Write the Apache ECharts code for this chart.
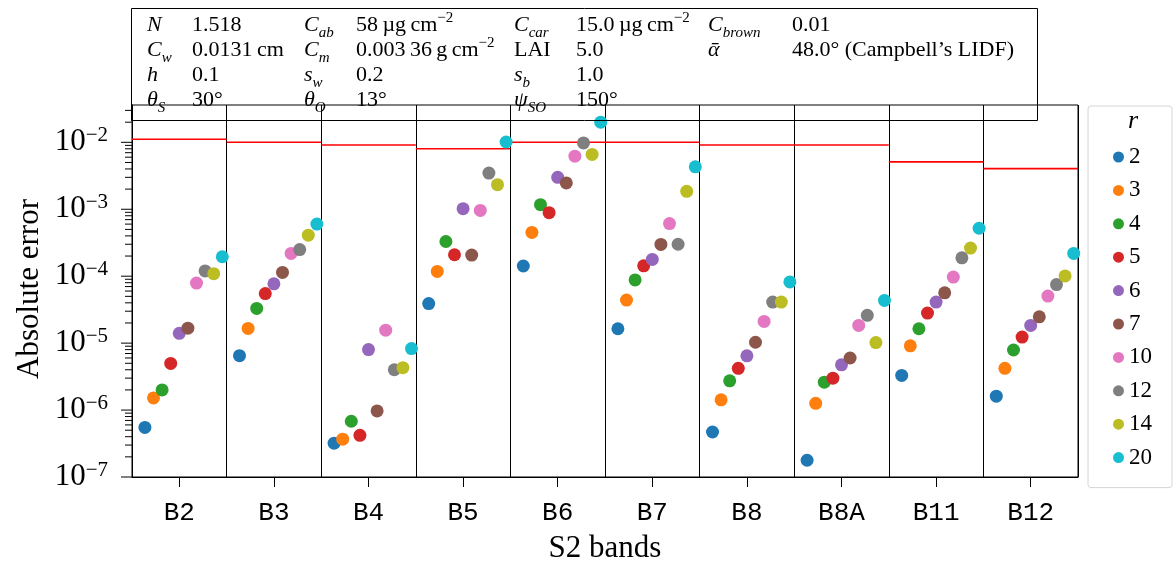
<!DOCTYPE html>
<html>
<head>
<meta charset="utf-8">
<script src="https://cdn.jsdelivr.net/npm/echarts@6/dist/echarts.min.js"></script>
<style>
  html, body { margin: 0; padding: 0; background: #fff; }
  #chart { width: 1176px; height: 561px; }
</style>
</head>
<body>
<div id="chart"></div>
<script>
// Sentinel-2 bands and the r values compared in each band
const bands = ['B2', 'B3', 'B4', 'B5', 'B6', 'B7', 'B8', 'B8A', 'B11', 'B12'];
const rValues = ['2', '3', '4', '5', '6', '7', '10', '12', '14', '20'];

// tolerance per band (red bars)
const thresholds = [1.11e-2, 1.0e-2, 9.1e-3, 8.0e-3, 1.0e-2, 1.0e-2, 9.1e-3, 9.1e-3, 5.1e-3, 4.04e-3];

// absolute error per band, one array per r
const errR2  = [5.5e-7, 6.5e-6, 3.2e-7, 3.9e-5, 1.42e-4, 1.64e-5, 4.7e-7, 1.78e-7, 3.29e-6, 1.61e-6];
const errR3  = [1.52e-6, 1.66e-5, 3.67e-7, 1.18e-4, 4.5e-4, 4.4e-5, 1.42e-6, 1.26e-6, 9.1e-6, 4.2e-6];
const errR4  = [2.0e-6, 3.3e-5, 6.8e-7, 3.3e-4, 1.17e-3, 8.8e-5, 2.73e-6, 2.61e-6, 1.64e-5, 7.9e-6];
const errR5  = [4.97e-6, 5.5e-5, 4.2e-7, 2.09e-4, 8.9e-4, 1.43e-4, 4.2e-6, 3.0e-6, 2.81e-5, 1.23e-5];
const errR6  = [1.40e-5, 7.7e-5, 8.0e-6, 1.02e-3, 3.0e-3, 1.78e-4, 6.46e-6, 4.74e-6, 4.1e-5, 1.84e-5];
const errR7  = [1.67e-5, 1.14e-4, 9.7e-7, 2.07e-4, 2.47e-3, 2.98e-4, 1.03e-5, 6.0e-6, 5.65e-5, 2.47e-5];
const errR10 = [7.9e-5, 2.19e-4, 1.56e-5, 9.6e-4, 6.2e-3, 6.1e-4, 2.11e-5, 1.84e-5, 9.7e-5, 5.05e-5];
const errR12 = [1.2e-4, 2.5e-4, 4.0e-6, 3.47e-3, 9.8e-3, 3.0e-4, 4.1e-5, 2.6e-5, 1.88e-4, 7.5e-5];
const errR14 = [1.09e-4, 4.1e-4, 4.3e-6, 2.33e-3, 6.6e-3, 1.85e-3, 4.1e-5, 1.02e-5, 2.63e-4, 1.01e-4];
const errR20 = [1.95e-4, 6.0e-4, 8.3e-6, 1.01e-2, 2.0e-2, 4.3e-3, 8.2e-5, 4.35e-5, 5.2e-4, 2.19e-4];

// decade exponents labelled on the y axis
const yTickExponents = [-7, -6, -5, -4, -3, -2];

// simulation parameters listed above the plot (label, value) per row
const paramRows = [
  [['{m|N}', '{t|1.518}'],
   ['{m|C}{sub|ab}', '{t|58\u2009\u00b5g\u2009cm}{sup|\u22122}'],
   ['{m|C}{sub|car}', '{t|15.0\u2009\u00b5g\u2009cm}{sup|\u22122}'],
   ['{m|C}{sub|brown}', '{t|0.01}']],
  [['{m|C}{sub|w}', '{t|0.0131\u2009cm}'],
   ['{m|C}{sub|m}', '{t|0.003\u200936\u2009g\u2009cm}{sup|\u22122}'],
   ['{t|LAI}', '{t|5.0}'],
   ['{m|\u1fb1}', '{t|48.0\u00b0 (Campbell\u2019s LIDF)}']],
  [['{m|h}', '{t|0.1}'],
   ['{m|s}{sub|w}', '{t|0.2}'],
   ['{m|s}{sub|b}', '{t|1.0}'],
   null],
  [['{m|\u03b8}{sub|S}', '{t|30\u00b0}'],
   ['{m|\u03b8}{sub|O}', '{t|13\u00b0}'],
   ['{m|\u03c8}{sub|SO}', '{t|150\u00b0}'],
   null]
];

const errSeries = [errR2, errR3, errR4, errR5, errR6, errR7, errR10, errR12, errR14, errR20];
const palette = ['#1f77b4', '#ff7f0e', '#2ca02c', '#d62728', '#9467bd',
                 '#8c564b', '#e377c2', '#7f7f7f', '#bcbd22', '#17becf'];

const SERIF = "'Liberation Serif', 'DejaVu Serif', serif";
const MONO = "'Liberation Mono', 'DejaVu Sans Mono', monospace";
const Y_MIN = 1e-7, Y_MAX = 0.0361;
const X_MIN = -0.5, X_MAX = bands.length - 0.5;
const DODGE = 1 / 11;

// decade and sub-decade tick values of the log axis
const majorTicks = yTickExponents.map(e => Math.pow(10, e));
const minorTicks = [];
yTickExponents.forEach(e => {
  for (let k = 2; k <= 9; k++) {
    const v = k * Math.pow(10, e);
    if (v <= Y_MAX) minorTicks.push(v);
  }
});

const series = [];

// tolerance bars spanning each band
series.push({
  type: 'custom', name: 'tolerance', xAxisIndex: 1, yAxisIndex: 0,
  silent: true, z: 2,
  data: thresholds.map((v, i) => [i, v]),
  renderItem: (params, api) => {
    const i = api.value(0), v = api.value(1);
    const a = api.coord([i - 0.5, v]);
    const b = api.coord([i + 0.5, v]);
    return {
      type: 'line',
      shape: { x1: a[0], y1: a[1], x2: b[0], y2: b[1] },
      style: { stroke: '#ff0000', lineWidth: 1.6 }
    };
  }
});

rValues.forEach((r, k) => {
  series.push({
    type: 'scatter', name: r, xAxisIndex: 1, yAxisIndex: 0,
    symbol: 'circle', symbolSize: 13, z: 4,
    itemStyle: { color: palette[k], opacity: 1 },
    data: errSeries[k].map((v, i) => [i + (k - 4) * DODGE, v])
  });
});

// y-axis tick marks: thin bars anchored on the left edge of the plot, pointing outwards
function tickMarks(values, len) {
  return {
    type: 'scatter', name: 'axis ticks', xAxisIndex: 1, yAxisIndex: 0,
    silent: true, clip: false, z: 6,
    symbol: 'rect', symbolSize: [len, 1], symbolOffset: [-len / 2, 0],
    itemStyle: { color: '#000', opacity: 1 },
    emphasis: { disabled: true },
    data: values.map(v => [X_MIN, v])
  };
}
series.push(tickMarks(majorTicks, 11));
series.push(tickMarks(minorTicks, 7));

const chart = echarts.init(document.getElementById('chart'), null, { renderer: 'canvas' });
chart.setOption({
  animation: false,
  backgroundColor: '#fff',
  grid: {
    left: 132, top: 105, right: 98, bottom: 84,
    show: true, borderColor: '#000', borderWidth: 1, backgroundColor: 'transparent'
  },
  legend: {
    data: rValues, orient: 'vertical', left: 1088, top: 106,
    padding: [39, 20, 18, 25], itemGap: 9.4,
    itemWidth: 11, itemHeight: 11, icon: 'circle',
    borderColor: '#d6d6d6', borderWidth: 1, borderRadius: 3,
    selectedMode: false,
    textStyle: { fontFamily: SERIF, fontSize: 23, lineHeight: 24, color: '#000' }
  },
  xAxis: [
    {
      type: 'category', data: bands, boundaryGap: true, position: 'bottom',
      axisLine: { show: true, onZero: false, lineStyle: { color: '#000', width: 1 } },
      axisTick: { show: true, alignWithLabel: true, length: 10, lineStyle: { color: '#000' } },
      axisLabel: { fontFamily: MONO, fontSize: 26, color: '#000', margin: 23 },
      splitLine: { show: true, lineStyle: { color: '#000', width: 1 } }
    },
    { type: 'value', min: X_MIN, max: X_MAX, show: false, axisLine: { onZero: false } }
  ],
  yAxis: {
    type: 'log', logBase: 10, min: Y_MIN, max: Y_MAX, position: 'left',
    axisLine: { show: true, onZero: false, lineStyle: { color: '#000' } },
    axisTick: { show: false },
    splitLine: { show: false },
    axisLabel: {
      margin: 24,
      customValues: majorTicks,
      formatter: v => {
        const n = Math.round(Math.log10(v));
        return '{b|10}{s|' + (n < 0 ? '\u2212' : '') + Math.abs(n) + '}';
      },
      rich: {
        b: { fontFamily: SERIF, fontSize: 31, lineHeight: 34, verticalAlign: 'middle', color: '#000' },
        s: { fontFamily: SERIF, fontSize: 21, lineHeight: 21, verticalAlign: 'top', color: '#000' }
      }
    }
  },
  series: series
});

// overlay: parameter table, titles
const tableColX = [[147, 192], [304, 356], [514, 576], [708, 792]];
const tableRowY = [25.3, 50.3, 75.3, 100.3];
const tableRich = {
  m:   { fontFamily: SERIF, fontStyle: 'italic', fontSize: 22, lineHeight: 30, verticalAlign: 'middle', fill: '#000' },
  t:   { fontFamily: SERIF, fontSize: 22, lineHeight: 30, verticalAlign: 'middle', fill: '#000' },
  sub: { fontFamily: SERIF, fontStyle: 'italic', fontSize: 15, lineHeight: 16, verticalAlign: 'bottom', fill: '#000' },
  sup: { fontFamily: SERIF, fontSize: 15, lineHeight: 16, verticalAlign: 'top', fill: '#000' }
};
const graphics = [];
paramRows.forEach((row, ri) => {
  row.forEach((cell, ci) => {
    if (!cell) return;
    cell.forEach((txt, j) => {
      graphics.push({
        type: 'text', z: 20,
        x: tableColX[ci][j], y: tableRowY[ri],
        style: {
          text: txt, rich: tableRich,
          fontFamily: SERIF, fontSize: 22, fill: '#000',
          align: 'left', verticalAlign: 'middle',
          textAlign: 'left', textVerticalAlign: 'middle'
        }
      });
    });
  });
});
graphics.push({
  type: 'rect', z: 19,
  shape: { x: 131.5, y: 8.5, width: 906, height: 112 },
  style: { fill: 'none', stroke: '#000', lineWidth: 1 }
});
graphics.push({
  type: 'text', z: 20, x: 30, y: 289, rotation: Math.PI / 2,
  style: { text: 'Absolute error', fontFamily: SERIF, fontSize: 31, fill: '#000',
           align: 'center', verticalAlign: 'middle', textAlign: 'center', textVerticalAlign: 'middle' }
});
graphics.push({
  type: 'text', z: 20, x: 605, y: 549,
  style: { text: 'S2 bands', fontFamily: SERIF, fontSize: 31, fill: '#000',
           align: 'center', verticalAlign: 'middle', textAlign: 'center', textVerticalAlign: 'middle' }
});
graphics.push({
  type: 'text', z: 20, x: 1133, y: 121,
  style: { text: 'r', fontFamily: SERIF, fontStyle: 'italic', fontSize: 26, fill: '#000',
           align: 'center', verticalAlign: 'middle', textAlign: 'center', textVerticalAlign: 'middle' }
});

chart.setOption({ graphic: graphics });
</script>
</body>
</html>
